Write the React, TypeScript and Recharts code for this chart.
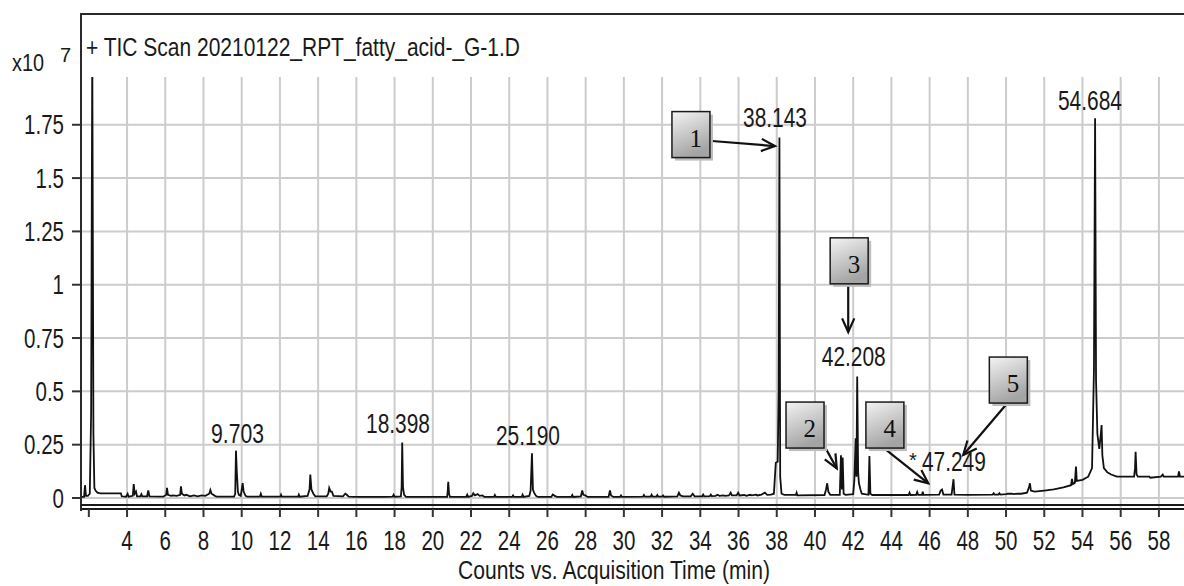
import React from 'react';
import { LineChart, Line, XAxis, YAxis, CartesianGrid, ReferenceDot, ReferenceLine } from 'recharts';

const SANS = '"Liberation Sans", Arial, "DejaVu Sans", sans-serif';
const SERIF = '"Liberation Serif", "DejaVu Serif", serif';
const SQUEEZE = 0.76;

// [retention time (min), counts (x10^7)]
const trace1 = [
  [1.59, 0.005], [1.75, 0.005], [1.8, 0.06], [1.85, 0.01], [1.95, 0.01], [2.05, 0.02], [2.12, 0.4],
  [2.18, 2.1], [2.24, 0.3], [2.29, 0.047], [2.35, 0.035], [2.45, 0.025], [2.6, 0.022], [3.0, 0.022],
  [3.68, 0.022], [3.72, 0.008], [3.95, 0.006], [4.03, 0.02], [4.08, 0.006], [4.3, 0.01], [4.35, 0.065],
  [4.4, 0.02], [4.47, 0.03], [4.52, 0.008], [4.7, 0.008], [4.75, 0.018], [4.8, 0.008], [5.05, 0.008],
  [5.11, 0.035], [5.17, 0.008], [5.9, 0.006], [6.05, 0.015], [6.09, 0.047], [6.14, 0.015], [6.3, 0.01],
  [6.4, 0.012], [6.6, 0.01], [6.78, 0.015], [6.82, 0.055], [6.87, 0.02], [7.0, 0.012], [7.1, 0.015],
  [7.3, 0.008], [7.5, 0.012], [7.7, 0.008], [7.9, 0.012], [8.1, 0.01], [8.3, 0.02], [8.36, 0.037],
  [8.42, 0.02], [8.6, 0.01], [8.7, 0.006], [9.6, 0.006], [9.66, 0.02], [9.7, 0.222], [9.74, 0.13],
  [9.8, 0.03], [9.85, 0.015], [9.95, 0.01], [10.05, 0.07], [10.1, 0.03], [10.2, 0.01], [10.3, 0.006],
  [10.95, 0.006], [11.0, 0.02], [11.05, 0.006], [12.02, 0.006], [12.06, 0.015], [12.1, 0.006],
  [12.95, 0.006], [12.99, 0.016], [13.03, 0.006], [13.45, 0.01], [13.55, 0.04], [13.59, 0.11],
  [13.65, 0.04], [13.75, 0.02], [13.85, 0.008], [14.45, 0.008], [14.53, 0.02], [14.58, 0.047],
  [14.65, 0.03], [14.72, 0.03], [14.8, 0.01], [15.3, 0.008], [15.42, 0.02], [15.5, 0.015], [15.6, 0.006],
];

const trace2 = [
  [16.0, 0.005], [17.5, 0.005], [17.9, 0.006], [17.95, 0.015], [18.0, 0.006], [18.33, 0.008],
  [18.37, 0.05], [18.4, 0.26], [18.44, 0.05], [18.5, 0.015], [18.6, 0.005], [20.75, 0.005],
  [20.78, 0.03], [20.81, 0.076], [20.85, 0.02], [20.9, 0.005], [21.75, 0.005], [21.8, 0.015],
  [21.85, 0.005], [22.05, 0.01], [22.12, 0.022], [22.2, 0.012], [22.35, 0.018], [22.45, 0.01],
  [22.6, 0.012], [22.7, 0.005], [23.2, 0.005], [23.25, 0.014], [23.3, 0.005], [24.15, 0.005],
  [24.2, 0.012], [24.25, 0.005], [24.65, 0.005], [24.7, 0.015], [24.75, 0.005], [25.05, 0.01],
  [25.12, 0.035], [25.19, 0.21], [25.24, 0.04], [25.3, 0.025], [25.4, 0.01], [25.5, 0.005],
  [26.2, 0.005], [26.28, 0.016], [26.38, 0.01], [26.5, 0.005], [27.25, 0.005], [27.3, 0.014],
  [27.35, 0.005], [27.75, 0.008], [27.82, 0.035], [27.88, 0.015], [27.98, 0.012], [28.1, 0.005],
  [29.2, 0.005], [29.27, 0.035], [29.33, 0.012], [29.45, 0.005], [29.8, 0.005], [29.85, 0.012],
  [29.9, 0.005], [31.0, 0.006], [31.05, 0.014], [31.1, 0.006], [31.4, 0.006], [31.45, 0.015],
  [31.5, 0.006], [31.7, 0.006], [31.75, 0.014], [31.8, 0.006], [32.0, 0.006], [32.05, 0.012],
  [32.1, 0.006], [32.8, 0.008], [32.88, 0.025], [32.95, 0.012], [33.1, 0.008], [33.5, 0.008],
  [33.6, 0.02], [33.7, 0.008], [34.1, 0.008], [34.15, 0.016], [34.2, 0.008], [34.5, 0.009],
  [34.55, 0.016], [34.6, 0.009], [34.8, 0.01], [34.9, 0.015], [35.0, 0.01], [35.2, 0.012],
  [35.3, 0.01], [35.5, 0.012], [35.59, 0.025], [35.65, 0.012], [35.9, 0.012], [35.98, 0.025],
  [36.05, 0.012], [36.3, 0.014], [36.4, 0.01], [36.6, 0.015], [36.7, 0.012], [36.9, 0.016],
  [37.0, 0.012], [37.2, 0.016], [37.38, 0.025], [37.5, 0.015], [37.7, 0.016], [37.85, 0.02],
  [37.95, 0.165], [38.05, 0.17], [38.1, 0.5], [38.14, 1.69], [38.18, 0.1], [38.25, 0.02],
];

const trace3 = [
  [38.4, 0.015], [39.0, 0.015], [39.04, 0.025], [39.08, 0.012], [40.5, 0.014], [40.58, 0.04],
  [40.64, 0.069], [40.7, 0.03], [40.8, 0.015], [41.3, 0.015], [41.36, 0.2], [41.41, 0.04],
  [41.45, 0.19], [41.5, 0.02], [41.6, 0.015], [42.0, 0.018], [42.06, 0.08], [42.13, 0.28],
  [42.17, 0.1], [42.21, 0.57], [42.26, 0.12], [42.3, 0.07], [42.38, 0.04], [42.45, 0.02],
  [42.8, 0.015], [42.85, 0.197], [42.9, 0.02], [43.0, 0.014], [44.9, 0.014], [44.95, 0.025],
  [45.0, 0.014], [45.3, 0.015], [45.35, 0.028], [45.4, 0.015], [45.6, 0.015], [45.64, 0.03],
  [45.68, 0.015], [46.5, 0.016], [46.58, 0.035], [46.65, 0.04], [46.72, 0.016], [47.15, 0.016],
  [47.25, 0.088], [47.3, 0.016], [48.0, 0.015], [49.3, 0.016], [49.35, 0.022], [49.4, 0.016],
  [49.6, 0.016], [49.65, 0.022], [49.7, 0.016],
];

const trace4 = [
  [50.0, 0.018], [50.1, 0.02], [50.3, 0.02], [50.4, 0.018], [50.6, 0.02], [50.8, 0.02], [51.1, 0.025],
  [51.2, 0.05], [51.25, 0.069], [51.3, 0.035], [51.5, 0.03], [52.0, 0.035], [52.5, 0.04], [53.0, 0.05],
  [53.4, 0.06], [53.45, 0.09], [53.5, 0.065], [53.6, 0.07], [53.66, 0.147], [53.7, 0.08], [54.0, 0.085],
  [54.3, 0.1], [54.5, 0.14], [54.6, 0.6], [54.66, 1.78], [54.71, 0.55], [54.78, 0.3], [54.88, 0.23],
  [54.96, 0.3], [55.0, 0.342], [55.04, 0.2], [55.12, 0.14], [55.3, 0.12], [55.5, 0.11], [55.8, 0.1],
  [56.7, 0.1], [56.75, 0.14], [56.78, 0.217], [56.83, 0.11], [56.9, 0.1], [57.5, 0.1], [57.55, 0.095],
  [58.1, 0.1], [58.2, 0.11], [58.25, 0.1], [59.0, 0.1], [59.05, 0.125], [59.1, 0.1], [60.15, 0.1],
];

const trace = [...trace1, ...trace2, ...trace3, ...trace4].map(([t, c]) => ({ t, c }));

const xTicks = [2, 4, 6, 8, 10, 12, 14, 16, 18, 20, 22, 24, 26, 28, 30, 32, 34, 36, 38, 40, 42, 44, 46, 48, 50, 52, 54, 56, 58];
const gridX = xTicks.filter((t) => t !== 2);
const yTicks = [0, 0.25, 0.5, 0.75, 1, 1.25, 1.5, 1.75];

const peakLabels = [
  { t: 9.78, c: 0.305, text: '9.703' },
  { t: 18.18, c: 0.352, text: '18.398' },
  { t: 24.98, c: 0.295, text: '25.190' },
  { t: 37.91, c: 1.784, text: '38.143' },
  { t: 42.03, c: 0.666, text: '42.208' },
  { t: 47.27, c: 0.17, text: '47.249', star: true },
  { t: 54.39, c: 1.866, text: '54.684' },
];

const boxes = [
  { id: '1', t: 33.51, c: 1.704 },
  { id: '2', t: 39.48, c: 0.342 },
  { id: '3', t: 41.79, c: 1.112 },
  { id: '4', t: 43.66, c: 0.342 },
  { id: '5', t: 50.12, c: 0.553 },
];

const arrows = [
  { id: '1', from: [34.61, 1.674], to: [37.91, 1.65] },
  { id: '2', from: [40.52, 0.239], to: [41.14, 0.139] },
  { id: '3', from: [41.74, 0.999], to: [41.74, 0.778] },
  { id: '4', from: [43.66, 0.23], to: [45.93, 0.069] },
  { id: '5', from: [50.03, 0.441], to: [47.76, 0.202] },
];

function Arrow(props: any) {
  const { x1, y1, x2, y2 } = props;
  const a = Math.atan2(y2 - y1, x2 - x1);
  const L = 15;
  const w = 0.42;
  const ax = x2 - L * Math.cos(a - w);
  const ay = y2 - L * Math.sin(a - w);
  const bx = x2 - L * Math.cos(a + w);
  const by = y2 - L * Math.sin(a + w);
  return (
    <g stroke="#111" strokeWidth={2.2} fill="none">
      <line x1={x1} y1={y1} x2={x2} y2={y2} />
      <polyline points={`${ax},${ay} ${x2},${y2} ${bx},${by}`} />
    </g>
  );
}

const boxShape = (id: string) => (props: any) => {
  const { cx, cy } = props;
  const w = 38;
  const h = 46;
  const x = cx - w / 2;
  const y = cy - h / 2;
  return (
    <g>
      <defs>
        <linearGradient id={`boxg${id}`} x1="0" y1="0" x2="0.35" y2="1">
          <stop offset="0" stopColor="#f4f4f4" />
          <stop offset="1" stopColor="#a4a4a4" />
        </linearGradient>
      </defs>
      <rect x={x + 3} y={y + 3} width={w} height={h} fill="#bdbdbd" />
      <rect x={x} y={y} width={w} height={h} fill={`url(#boxg${id})`} stroke="#1a1a1a" strokeWidth={1.5} />
      <text x={x + w - 8} y={cy + 12} textAnchor="end" fontFamily={SERIF} fontSize={25} fill="#111">
        {id}
      </text>
    </g>
  );
};

const peakText = (text: string, star?: boolean) => (props: any) => {
  const len = text.length === 6 ? 64 : 53;
  return (
    <g>
      {star && (
        <text x={props.cx - len / 2 - 5} y={props.cy + 5} textAnchor="end" fontFamily={SANS} fontSize={20} fill="#1a1a1a">
          *
        </text>
      )}
      <text
        x={props.cx}
        y={props.cy}
        dy="0.36em"
        textAnchor="middle"
        fontFamily={SANS}
        fontSize={27}
        fill="#1a1a1a"
        textLength={len}
        lengthAdjust="spacingAndGlyphs"
      >
        {text}
      </text>
    </g>
  );
};

const squeezedTick = (dy: string, hideFirst?: boolean) => (props: any) => {
  const { x, y, payload, textAnchor } = props;
  if (hideFirst && payload.value === 2) return <g />;
  return (
    <text
      transform={`translate(${x} ${y}) scale(${SQUEEZE} 1)`}
      x={0}
      y={0}
      dy={dy}
      textAnchor={textAnchor}
      fontFamily={SANS}
      fontSize={27}
      fill="#1a1a1a"
    >
      {String(payload.value)}
    </text>
  );
};

export default function App() {
  return (
    <div style={{ position: 'absolute', left: 0, top: 0, width: 1184, height: 586, overflow: 'hidden', background: '#fff', fontFamily: SANS }}>
      <LineChart width={1210} height={586} data={trace} margin={{ top: 77, right: 10, bottom: 0, left: 0 }}>
        <CartesianGrid stroke="#cccccc" strokeWidth={2} verticalValues={gridX} horizontalValues={yTicks} />
        <XAxis
          type="number"
          dataKey="t"
          domain={[1.59, 60.15]}
          allowDataOverflow
          ticks={xTicks}
          interval={0}
          height={77}
          tickSize={8}
          tickMargin={14}
          axisLine={{ stroke: '#1a1a1a', strokeWidth: 2 }}
          tickLine={{ stroke: '#333', strokeWidth: 2 }}
          tick={squeezedTick('0.71em', true)}
        />
        <YAxis
          type="number"
          domain={[-0.0516, 1.974]}
          allowDataOverflow
          ticks={yTicks}
          interval={0}
          width={81}
          tickSize={9}
          tickMargin={8}
          axisLine={false}
          tickLine={{ stroke: '#333', strokeWidth: 2 }}
          tick={squeezedTick('0.355em')}
        />
        <Line type="linear" dataKey="c" stroke="#111" strokeWidth={1.8} dot={false} isAnimationActive={false} />
        {peakLabels.map((p) => (
          <ReferenceDot key={p.text} x={p.t} y={p.c} r={0} ifOverflow="visible" shape={peakText(p.text, p.star)} />
        ))}
        {arrows.map((a) => (
          <ReferenceLine
            key={`a${a.id}`}
            segment={[{ x: a.from[0], y: a.from[1] }, { x: a.to[0], y: a.to[1] }]}
            ifOverflow="visible"
            shape={Arrow}
          />
        ))}
        {boxes.map((b) => (
          <ReferenceDot key={`b${b.id}`} x={b.t} y={b.c} r={0} ifOverflow="visible" shape={boxShape(b.id)} />
        ))}
      </LineChart>
      <div style={{ position: 'absolute', left: 80, top: 13, width: 1120, height: 496, borderLeft: '2px solid #2a2a2a', borderTop: '2px solid #2a2a2a' }} />
      <div style={{ position: 'absolute', left: 81, top: 504, width: 1120, height: 2, background: '#1a1a1a' }} />
      <svg width={1184} height={586} style={{ position: 'absolute', left: 0, top: 0, pointerEvents: 'none' }}>
        <text x={86} y={56} fontFamily={SANS} fontSize={26} fill="#1a1a1a" textLength={434} lengthAdjust="spacingAndGlyphs">
          + TIC Scan 20210122_RPT_fatty_acid-_G-1.D
        </text>
        <text x={12} y={71} fontFamily={SANS} fontSize={24} fill="#1a1a1a" textLength={32} lengthAdjust="spacingAndGlyphs">
          x10
        </text>
        <text x={60} y={62} fontFamily={SANS} fontSize={20} fill="#1a1a1a">7</text>
        <text x={614} y={579} textAnchor="middle" fontFamily={SANS} fontSize={25} fill="#1a1a1a" textLength={312} lengthAdjust="spacingAndGlyphs">
          Counts vs. Acquisition Time (min)
        </text>
      </svg>
    </div>
  );
}
